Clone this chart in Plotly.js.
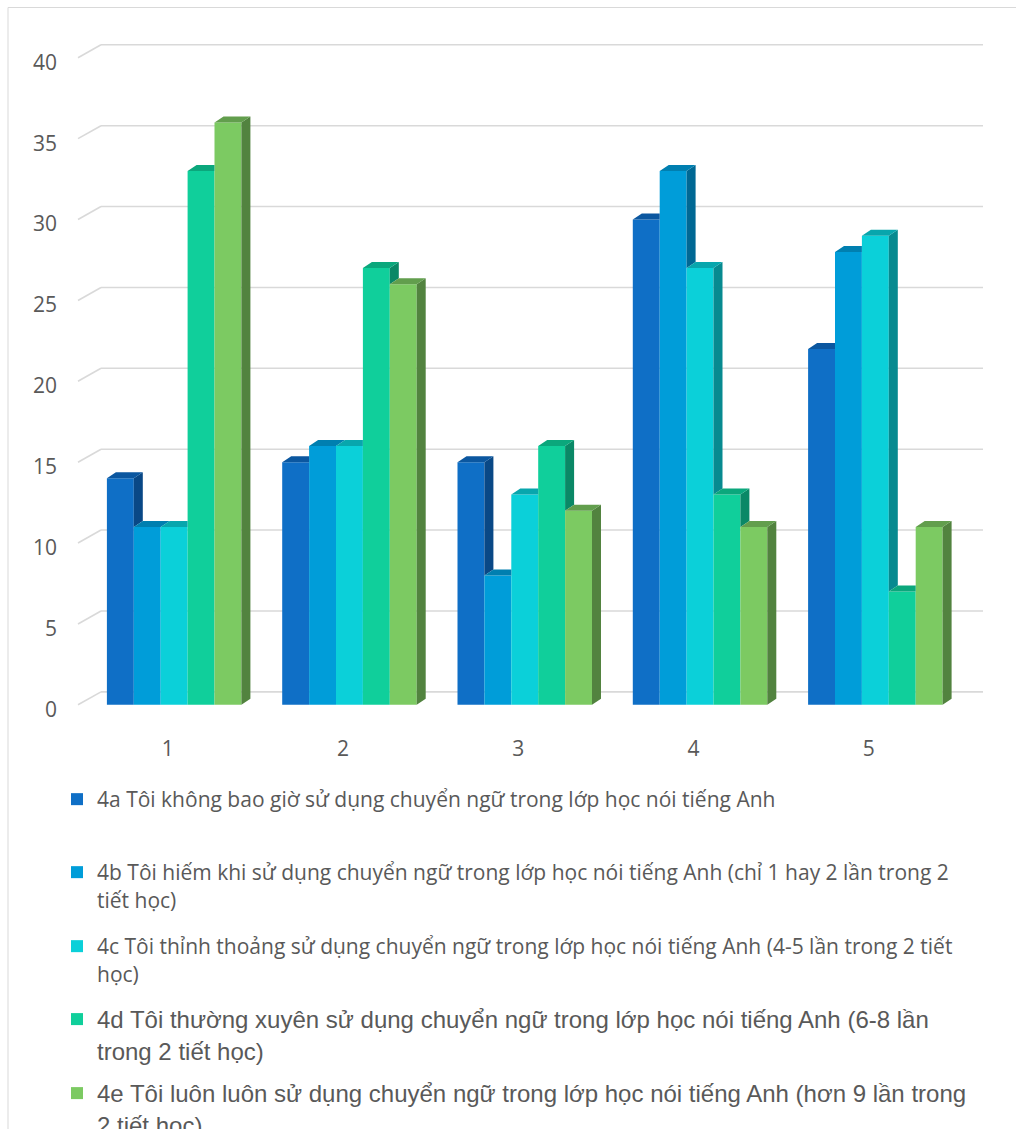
<!DOCTYPE html>
<html>
<head>
<meta charset="utf-8">
<script src="https://cdn.plot.ly/plotly-3.0.1.min.js"></script>
<style>
  html, body { margin: 0; padding: 0; background: #ffffff; }
  #chart { width: 1016px; height: 1129px; }
</style>
</head>
<body>
<div id="chart"></div>
<script>
// ---------- data ----------
const categories = [1, 2, 3, 4, 5];
const tickLabels = ['1', '2', '3', '4', '5'];
const s4a = [14, 15, 15, 30, 22];
const s4b = [11, 16, 8, 33, 28];
const s4c = [11, 16, 13, 27, 29];
const s4d = [33, 27, 16, 13, 7];
const s4e = [36, 26, 12, 11, 11];
const seriesNames = [
  '4a Tôi không bao giờ sử dụng chuyển ngữ trong lớp học nói tiếng Anh',
  '4b Tôi hiếm khi sử dụng chuyển ngữ trong lớp học nói tiếng Anh (chỉ 1 hay 2 lần trong 2<br>tiết học)',
  '4c Tôi thỉnh thoảng sử dụng chuyển ngữ trong lớp học nói tiếng Anh (4-5 lần trong 2 tiết<br>học)',
  '4d Tôi thường xuyên sử dụng chuyển ngữ trong lớp học nói tiếng Anh (6-8 lần<br>trong 2 tiết học)',
  '4e Tôi luôn luôn sử dụng chuyển ngữ trong lớp học nói tiếng Anh (hơn 9 lần trong<br>2 tiết học)'
];
const yTicks = [0, 5, 10, 15, 20, 25, 30, 35, 40];

// ---------- styling ----------
const seriesValues = [s4a, s4b, s4c, s4d, s4e];
const frontColors = ['#0F6FC6', '#009DD9', '#0BD0D9', '#10CF9B', '#7CCA62'];
const topColors   = ['#0B57A0', '#007FB0', '#08A6AD', '#0BA77C', '#629E4D'];
const sideColors  = ['#094886', '#006894', '#078A90', '#0A8866', '#52833F'];

const PX_X = 175.3;             // pixels per category unit
const PX_Y = 16.18;             // pixels per value unit
const zeroPx = 705;             // pixel row of value 0 on the front plane
const belowUnits = 1;           // extra room below zero so the "0" label fits
const plotL = 80, plotR = 983, plotT = 40, plotB = zeroPx + belowUnits * PX_Y;
const plotW = plotR - plotL, plotH = plotB - plotT;
const barW = 26.9 / PX_X;       // bar width (category units)
const groupShift = 6.5 / PX_X;
const dx = 9 / PX_X, dy = 6 / PX_Y;     // bar depth projection
const backDX = 21, backDY = 13;         // back wall offset (px)
const backOff = backDY / PX_Y;
const labelShift = 4.5 / PX_Y;          // y tick labels sit slightly below front values

const xRange = [0.5, 0.5 + plotW / PX_X];
const yRange = [-belowUnits, (zeroPx - plotT) / PX_Y];

const traces = [];
const legendIds = ['legend', 'legend2', 'legend3', 'legend4', 'legend5'];

// front faces (bars)
seriesValues.forEach((vals, s) => {
  traces.push({
    type: 'bar',
    x: categories,
    y: vals,
    base: 0,
    name: seriesNames[s],
    width: barW,
    offset: groupShift - 2.5 * barW + s * barW,
    marker: { color: frontColors[s], line: { width: 0 } },
    legend: legendIds[s],
    hoverinfo: 'y'
  });
});

// side and top faces (3D look), computed from the values
seriesValues.forEach((vals, s) => {
  const sx = [], sy = [], tx = [], ty = [];
  categories.forEach((xc, c) => {
    const v = vals[c];
    const x0 = xc + groupShift - 2.5 * barW + s * barW;
    const x1 = x0 + barW;
    const next = s < seriesValues.length - 1 ? seriesValues[s + 1][c] : null;
    if (next !== null && next > v) {
      tx.push(x0, x1, x1, x0 + dx, x0, null);
      ty.push(v, v, v + dy, v + dy, v, null);
    } else {
      tx.push(x0, x1, x1 + dx, x0 + dx, x0, null);
      ty.push(v, v, v + dy, v + dy, v, null);
    }
    const cc = next === null ? 0 : next;
    if (cc < v) {
      sx.push(x1, x1 + dx, x1 + dx, x1, x1, null);
      sy.push(cc, cc + dy, v + dy, v, cc, null);
    }
  });
  traces.push({
    type: 'scatter', mode: 'lines', x: sx, y: sy, fill: 'toself',
    fillcolor: sideColors[s], line: { width: 0, color: sideColors[s] },
    hoverinfo: 'skip', showlegend: false
  });
  traces.push({
    type: 'scatter', mode: 'lines', x: tx, y: ty, fill: 'toself',
    fillcolor: topColors[s], line: { width: 0, color: topColors[s] },
    hoverinfo: 'skip', showlegend: false
  });
});

// invisible carrier trace for the tick-label axis
traces.push({
  type: 'scatter', mode: 'markers', x: [categories[0]], y: [yTicks[0]], yaxis: 'y2',
  marker: { opacity: 0 }, hoverinfo: 'skip', showlegend: false
});

// back-wall gridlines and their floor/side connectors
const shapes = [];
const pxToPaperX = px => (px - plotL) / plotW;
const pxToPaperY = py => (plotB - py) / plotH;
yTicks.forEach(v => {
  shapes.push({
    type: 'line', layer: 'below', xref: 'paper', yref: 'y',
    x0: pxToPaperX(plotL + backDX), x1: 1, y0: v + backOff, y1: v + backOff,
    line: { color: '#D9D9D9', width: 1.6 }
  });
  shapes.push({
    type: 'line', layer: 'below', xref: 'paper', yref: 'y',
    x0: pxToPaperX(plotL - 2), x1: pxToPaperX(plotL + backDX), y0: v, y1: v + backOff,
    line: { color: '#D9D9D9', width: 1.6 }
  });
});
// chart area border
shapes.push({
  type: 'rect', layer: 'below', xref: 'paper', yref: 'paper',
  x0: pxToPaperX(8), x1: pxToPaperX(1030), y0: pxToPaperY(1140), y1: pxToPaperY(7.5),
  line: { color: '#D9D9D9', width: 1 }, fillcolor: 'rgba(0,0,0,0)'
});

const legendFontA = { family: 'Open Sans, sans-serif', size: 21, color: '#595959' };
const legendFontB = { family: 'Liberation Sans, Arial, sans-serif', size: 24, color: '#595959' };
const legendTops = [779, 852, 926, 997, 1071];
const legendFonts = [legendFontA, legendFontA, legendFontA, legendFontB, legendFontB];
const tickFont = { family: 'Open Sans, sans-serif', size: 21, color: '#595959' };

const layout = {
  width: 1016, height: 1129,
  margin: { l: plotL, r: 1016 - plotR, t: plotT, b: 1129 - plotB, pad: 0, autoexpand: false },
  paper_bgcolor: '#ffffff', plot_bgcolor: 'rgba(0,0,0,0)',
  barmode: 'overlay',
  showlegend: true,
  xaxis: {
    type: 'linear', range: xRange, tickvals: categories, ticktext: tickLabels,
    showgrid: false, zeroline: false, showline: false, ticks: '',
    ticklabelstandoff: 13, tickfont: tickFont, fixedrange: true
  },
  yaxis: {
    range: yRange, showticklabels: false,
    showgrid: false, zeroline: false, showline: false, ticks: '',
    fixedrange: true
  },
  yaxis2: {
    overlaying: 'y', side: 'left',
    range: [yRange[0] + labelShift, yRange[1] + labelShift],
    tickvals: yTicks, ticktext: yTicks.map(String),
    showgrid: false, zeroline: false, showline: false, ticks: '',
    ticklabelstandoff: 22, tickfont: tickFont, fixedrange: true
  },
  shapes: shapes
};
legendIds.forEach((id, i) => {
  layout[id] = {
    xref: 'container', yref: 'container',
    x: 57 / 1016, y: 1 - legendTops[i] / 1129,
    xanchor: 'left', yanchor: 'top',
    valign: 'top',
    bgcolor: 'rgba(0,0,0,0)', borderwidth: 0,
    font: legendFonts[i],
    itemclick: false, itemdoubleclick: false
  };
});

Plotly.newPlot('chart', traces, layout, { displayModeBar: false, staticPlot: false });
</script>
</body>
</html>
